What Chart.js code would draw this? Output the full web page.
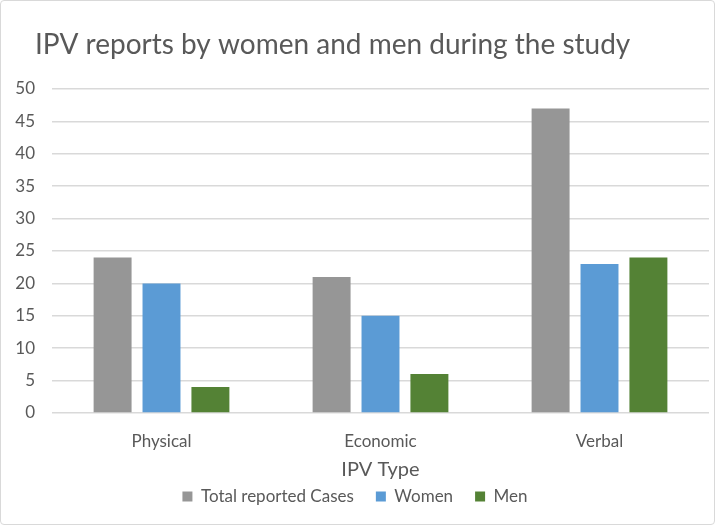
<!DOCTYPE html>
<html><head><meta charset="utf-8">
<script src="https://cdn.jsdelivr.net/npm/chart.js@4.4.1/dist/chart.umd.min.js"></script>
<style>
html,body{margin:0;padding:0;background:#fff;}
#wrap{position:absolute;left:0;top:0;width:715px;height:525px;box-sizing:border-box;border:1px solid #d9d9d9;border-radius:4px;background:#fff;}
canvas{position:absolute;left:0;top:0;}
</style></head>
<body>
<div id="wrap"><canvas id="c" width="713" height="523"></canvas></div>
<script>
const chartTitle = 'IPV reports by women and men during the study';
const categories = ['Physical', 'Economic', 'Verbal'];
const totalCases = [24, 21, 47];
const women = [20, 15, 23];
const men = [4, 6, 24];
const seriesNames = ['Total reported Cases', 'Women', 'Men'];
const xTitle = 'IPV Type';

const FONT = 'Lato, "Open Sans", sans-serif';
const titlePlugin = {
  id: 'leftTitle',
  afterDraw(chart) {
    const ctx = chart.ctx;
    ctx.save();
    ctx.font = '400 28px ' + FONT;
    ctx.fillStyle = '#595959';
    ctx.textBaseline = 'middle';
    ctx.textAlign = 'left';
    ctx.fillText(chartTitle, 34, 44);
    ctx.restore();
  }
};

new Chart(document.getElementById('c'), {
  type: 'bar',
  data: {
    labels: categories,
    datasets: [
      {label: seriesNames[0], data: totalCases, backgroundColor: '#969696'},
      {label: seriesNames[1], data: women, backgroundColor: '#5b9bd5'},
      {label: seriesNames[2], data: men, backgroundColor: '#548235'}
    ]
  },
  options: {
    responsive: false,
    animation: false,
    devicePixelRatio: 1,
    datasets: {bar: {categoryPercentage: 0.67, barPercentage: 0.776}},
    layout: {padding: {top: 88, left: 0, right: 5, bottom: 9}},
    plugins: {
      title: {display: false},
      tooltip: {enabled: false},
      legend: {
        position: 'bottom',
        labels: {
          boxWidth: 10, boxHeight: 10, padding: 22,
          color: '#595959',
          font: {family: FONT, size: 17}
        }
      }
    },
    scales: {
      x: {
        afterFit(s) { s.height = 53; },
        grid: {display: false, drawTicks: false},
        border: {display: false},
        ticks: {color: '#595959', font: {family: FONT, size: 17}, padding: 18},
        title: {display: true, text: xTitle, color: '#595959', font: {family: FONT, size: 20}, padding: {top: 0, bottom: -16}}
      },
      y: {
        min: 0, max: 50,
        afterFit(s) { s.width = 51; },
        grid: {color: '#d9d9d9', lineWidth: 1.5, drawTicks: false},
        border: {display: false},
        ticks: {stepSize: 5, color: '#595959', font: {family: FONT, size: 17}, padding: 17}
      }
    }
  },
  plugins: [titlePlugin]
});
</script>
</body></html>
